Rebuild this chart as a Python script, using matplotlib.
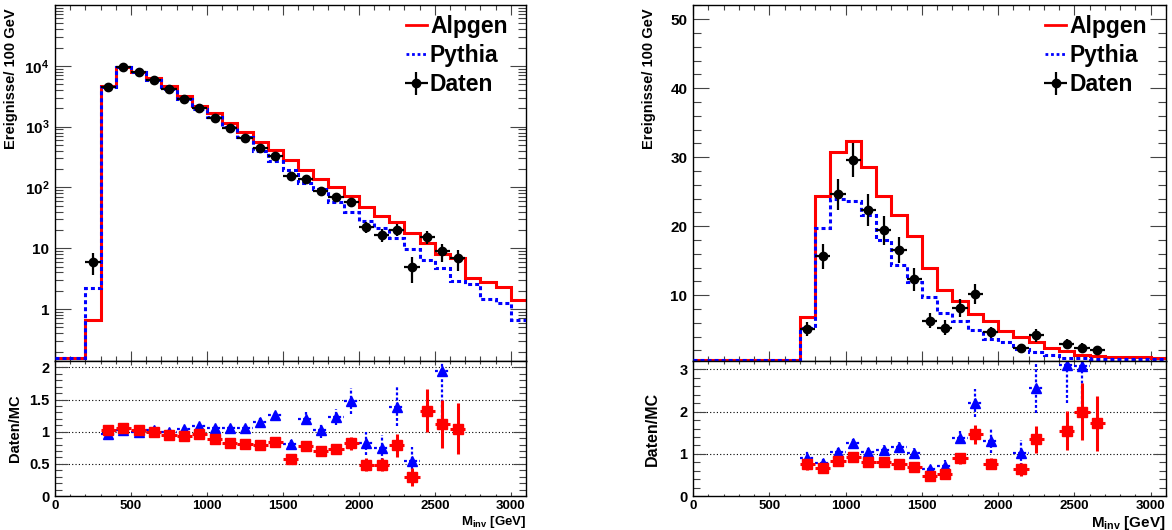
import numpy as np
import matplotlib
matplotlib.use('Agg')
import matplotlib.pyplot as plt
from matplotlib.lines import Line2D
from matplotlib.ticker import MultipleLocator, FixedLocator, FixedFormatter, LogLocator, NullFormatter, FuncFormatter

# ---------------- data ----------------
bin_edges = [0, 100, 200, 300, 400, 500, 600, 700, 800, 900, 1000, 1100, 1200, 1300, 1400, 1500,
             1600, 1700, 1800, 1900, 2000, 2100, 2200, 2300, 2400, 2500, 2600, 2700, 2800, 2900,
             3000, 3100]

# left panel (log scale)
alpgen_L = [0, 0, 0.65, 4600, 9600, 8000, 6400, 4600, 3130, 2150, 1660, 1140, 820, 560, 410, 285,
            191, 139, 101, 72, 48.6, 34, 26.7, 17.7, 12.2, 8.1, 6.9, 3.2, 2.82, 2.34, 1.42]
pythia_L = [0, 0, 2.2, 4500, 9500, 7900, 5900, 4200, 2800, 1930, 1430, 990, 670, 400, 270, 195,
            120, 93, 58, 40, 28, 21.6, 14.7, 9.6, 6.3, 4.8, 2.9, 2.55, 1.47, 1.25, 0.67]
data_x_L = [250, 350, 450, 550, 650, 750, 850, 950, 1050, 1150, 1250, 1350, 1450, 1550, 1650, 1750,
            1850, 1950, 2050, 2150, 2250, 2350, 2450, 2550, 2650]
data_y_L = [6.0, 4400, 9500, 7900, 5900, 4100, 2900, 2000, 1400, 950, 650, 450, 330, 152, 140, 89,
            70, 58, 22.6, 16.7, 20.2, 4.9, 15.6, 8.9, 6.9]
data_e_L = [2.4, 66, 97, 89, 77, 64, 54, 45, 37, 31, 25, 21, 18, 12, 12, 9.4,
            8.4, 7.6, 4.8, 4.1, 4.5, 2.2, 3.9, 3.0, 2.6]

ratio_x_L = [350, 450, 550, 650, 750, 850, 950, 1050, 1150, 1250, 1350, 1450, 1550, 1650, 1750,
             1850, 1950, 2050, 2150, 2250, 2350, 2450, 2550, 2650]
ratio_alp_L = [1.03, 1.06, 1.02, 0.99, 0.95, 0.94, 0.97, 0.88, 0.82, 0.81, 0.79, 0.84, 0.57, 0.78,
               0.70, 0.73, 0.82, 0.49, 0.49, 0.79, 0.29, 1.33, 1.12, 1.05]
ratio_alp_e_L = [0.02, 0.02, 0.02, 0.02, 0.02, 0.02, 0.03, 0.03, 0.03, 0.04, 0.04, 0.05, 0.05, 0.06,
                 0.07, 0.08, 0.10, 0.10, 0.10, 0.18, 0.14, 0.34, 0.37, 0.40]
ratio_pyt_L = [0.96, 1.02, 1.00, 1.02, 1.00, 1.05, 1.09, 1.06, 1.06, 1.06, 1.15, 1.26, 0.81, 1.20,
               1.02, 1.23, 1.48, 0.82, 0.75, 1.39, 0.54, np.nan, 1.94, np.nan]
ratio_pyt_e_L = [0.03, 0.02, 0.02, 0.02, 0.02, 0.03, 0.03, 0.04, 0.04, 0.05, 0.06, 0.08, 0.07, 0.10,
                 0.11, 0.12, 0.20, 0.18, 0.20, 0.30, 0.22, np.nan, 0.80, np.nan]

# right panel (linear scale)
alpgen_R = [0, 0, 0, 0, 0, 0, 0, 6.86, 24.4, 30.7, 32.4, 28.5, 24.3, 21.6, 18.6, 14.0,
            10.7, 9.2, 7.2, 6.2, 4.8, 3.9, 3.2, 2.3, 1.95, 1.3, 1.15, 1.1, 1.05, 1.0, 0.95]
pythia_R = [0, 0, 0, 0, 0, 0, 0, 5.2, 19.7, 23.9, 23.7, 21.6, 18.0, 14.4, 11.9, 9.75,
            7.35, 6.3, 4.9, 3.6, 3.2, 2.2, 1.8, 1.3, 0.95, 0.85, 0.8, 0.8, 0.78, 0.75, 0.75]
data_x_R = [750, 850, 950, 1050, 1150, 1250, 1350, 1450, 1550, 1650, 1750, 1850, 1950, 2150,
            2250, 2450, 2550, 2650]
data_y_R = [5.1, 15.6, 24.6, 29.6, 22.3, 19.4, 16.5, 12.3, 6.3, 5.3, 8.2, 10.2, 4.6, 2.4,
            4.15, 2.95, 2.4, 2.0]
data_e_R = [1.0, 1.75, 2.3, 2.5, 2.3, 2.1, 1.9, 1.7, 1.1, 1.1, 1.3, 1.45, 0.85, 0.55,
            1.0, 0.7, 0.6, 0.5]

ratio_x_R = data_x_R
ratio_alp_R = [0.75, 0.67, 0.83, 0.92, 0.80, 0.80, 0.77, 0.69, 0.47, 0.51, 0.89, 1.46, 0.76, 0.63,
               1.34, 1.55, 2.00, 1.72]
ratio_alp_e_R = [0.13, 0.08, 0.08, 0.08, 0.08, 0.09, 0.09, 0.10, 0.08, 0.10, 0.13, 0.22, 0.13, 0.15,
                 0.33, 0.46, 0.67, 0.65]
ratio_pyt_R = [0.91, 0.79, 1.04, 1.26, 1.04, 1.08, 1.16, 1.01, 0.63, 0.71, 1.38, 2.20, 1.31, 1.02,
               2.56, 3.10, 3.07, np.nan]
ratio_pyt_e_R = [0.17, 0.08, 0.10, 0.10, 0.10, 0.12, 0.13, 0.13, 0.12, 0.14, 0.15, 0.33, 0.30, 0.30,
                 0.60, 0.90, 0.90, np.nan]

labels = ['Alpgen', 'Pythia', 'Daten']
ylabel_top = 'Ereignisse/ 100 GeV'
ylabel_ratio = 'Daten/MC'
xlabel = r'$\mathrm{M}_{\mathrm{inv}}$ [GeV]'

# ---------------- style ----------------
plt.rcParams['font.family'] = ['Liberation Sans', 'DejaVu Sans']
plt.rcParams['font.weight'] = 'bold'
plt.rcParams['mathtext.fontset'] = 'custom'
plt.rcParams['mathtext.rm'] = 'Liberation Sans:bold'
plt.rcParams['mathtext.bf'] = 'Liberation Sans:bold'
plt.rcParams['mathtext.it'] = 'Liberation Sans:bold'
plt.rcParams['axes.linewidth'] = 1.0

RED = '#ff0000'
BLUE = '#0000ff'
DOT = (0, (1.3, 1.0))
W, H = 1172, 530

fig = plt.figure(figsize=(W / 100, H / 100), dpi=100)


def ax_px(x0, y0, x1, y1):
    return fig.add_axes([x0 / W, 1 - y1 / H, (x1 - x0) / W, (y1 - y0) / H])


def draw(x0, x1, logy, alp, pyt, dx, dy, de, rx, ra, rae, rp, rpe, ylim, rylim, rmaj, rmin,
         rgrid, fs_lab, fs_xl):
    top = ax_px(x0, 5, x1, 361)
    rat = ax_px(x0, 361, x1, 496)
    floor = ylim[0] * 1.1 if logy else ylim[0] + 0.15
    a = np.array(alp, dtype=float)
    p = np.array(pyt, dtype=float)
    a[a <= 0] = floor
    p[p <= 0] = floor
    if logy:
        top.set_yscale('log')
    top.stairs(a, bin_edges, baseline=None, color=RED, lw=2.2, zorder=2)
    top.stairs(p, bin_edges, baseline=None, color=BLUE, lw=2.2, ls=DOT, zorder=3)
    eb = top.errorbar(dx, dy, xerr=50, yerr=de, fmt='o', color='k', ms=6, elinewidth=1.6,
                      capsize=0, zorder=4)
    top.set_xlim(0, 3100)
    top.set_ylim(*ylim)
    handles = [Line2D([], [], color=RED, lw=2.0),
               Line2D([], [], color=BLUE, lw=2.0, ls=(0, (1.0, 1.0))),
               eb]
    top.legend(handles, labels, loc='upper left', bbox_to_anchor=(0.745, 0.972), frameon=False,
               prop={'size': 16.5, 'weight': 'bold'}, handlelength=0.9, handletextpad=0.15,
               labelspacing=0.27, borderpad=0, borderaxespad=0)

    # ratio
    for v in rgrid:
        rat.axhline(v, color='k', ls=(0, (1, 2)), lw=0.8, zorder=1)
    pe = rat.errorbar(rx, rp, xerr=50, yerr=rpe, fmt='^', color=BLUE, ms=7, elinewidth=1.6,
                      capsize=0, zorder=2)
    for c in pe[2]:
        c.set_linestyle(DOT)
    rat.errorbar(rx, ra, xerr=50, yerr=rae, fmt='s', color=RED, ms=7.5, elinewidth=2.2,
                 capsize=0, zorder=3)
    rat.set_xlim(0, 3100)
    rat.set_ylim(*rylim)

    # ticks
    for ax in (top, rat):
        ax.xaxis.set_major_locator(MultipleLocator(500))
        ax.xaxis.set_minor_locator(MultipleLocator(100))
        ax.tick_params(which='both', direction='in', top=True, right=True, color='#444',
                       width=0.8, labelsize=9.5)
    top.tick_params(axis='x', which='major', length=7, labelbottom=False)
    top.tick_params(axis='x', which='minor', length=3.6)
    top.tick_params(axis='y', which='major', length=11.5, pad=4, labelsize=11)
    top.tick_params(axis='y', which='minor', length=5.8)
    if logy:
        top.yaxis.set_major_locator(FixedLocator([1, 10, 100, 1000, 10000]))
        top.yaxis.set_major_formatter(FixedFormatter(['1', '10', r'$10^{2}$', r'$10^{3}$',
                                                      r'$10^{4}$']))
        top.yaxis.set_minor_locator(LogLocator(base=10, subs=np.arange(2, 10), numticks=20))
        top.yaxis.set_minor_formatter(NullFormatter())
    else:
        top.yaxis.set_major_locator(MultipleLocator(10))
        top.yaxis.set_minor_locator(MultipleLocator(2))
    rat.tick_params(axis='x', which='major', length=3, pad=3)
    rat.tick_params(axis='x', which='minor', length=1.8)
    rat.tick_params(axis='y', which='major', length=9.4, pad=4, labelsize=10.5)
    rat.tick_params(axis='y', which='minor', length=5)
    rat.yaxis.set_major_locator(MultipleLocator(rmaj))
    rat.yaxis.set_minor_locator(MultipleLocator(rmin))
    rat.yaxis.set_major_formatter(FuncFormatter(lambda v, pos: f'{v:g}'))
    rat.xaxis.set_major_formatter(FuncFormatter(lambda v, pos: f'{v:g}'))

    top.set_ylabel(ylabel_top, fontsize=10.5, fontweight='bold', loc='top')
    top.yaxis.set_label_coords((18 - 55) / 471, 0.99)
    rat.set_ylabel(ylabel_ratio, fontsize=fs_lab, fontweight='bold')
    rat.yaxis.set_label_coords((22 - 55) / 471, 0.5)
    rat.set_xlabel(xlabel, fontsize=fs_xl, fontweight='bold', loc='right', labelpad=1)


draw(55, 526, True, alpgen_L, pythia_L, data_x_L, data_y_L, data_e_L,
     ratio_x_L, ratio_alp_L, ratio_alp_e_L, ratio_pyt_L, ratio_pyt_e_L,
     (0.14, 1e5), (0, 2.1), 0.5, 0.1, [0.5, 1, 1.5, 2], 10.5, 9.5)
draw(693, 1166, False, alpgen_R, pythia_R, data_x_R, data_y_R, data_e_R,
     ratio_x_R, ratio_alp_R, ratio_alp_e_R, ratio_pyt_R, ratio_pyt_e_R,
     (0.45, 52.05), (0, 3.2), 1, 0.2, [1, 2, 3], 11.5, 11)

fig.savefig('out.png', dpi=100)
